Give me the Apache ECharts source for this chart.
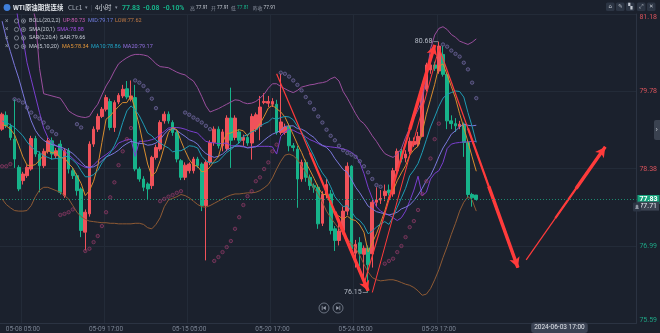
<!DOCTYPE html>
<html>
<head>
<meta charset="utf-8">
<title>WTI原油期货连续 4小时</title>
<script src="https://cdn.jsdelivr.net/npm/echarts@6/dist/echarts.min.js"></script>
<style>
  html, body { margin: 0; padding: 0; background: #1b212d; }
  #chart { width: 660px; height: 333px; }
</style>
</head>
<body>
<div id="chart"></div>
<script>
// ---- 4-hour bars (open / close / low / high) ----
const opens = [
  79.10, 79.35, 79.15, 78.92, 78.41, 78.17, 78.26, 78.38, 78.93, 78.65,
  78.44, 78.70, 78.89, 78.62, 78.83, 77.90, 78.71, 78.35, 78.26, 78.02,
  77.24, 77.57, 78.83, 79.10, 79.33, 79.46, 79.60, 79.13, 79.59, 79.70,
  79.83, 79.64, 79.67, 78.38, 78.20, 78.11, 78.08, 78.59, 78.74, 79.25,
  79.37, 79.22, 79.04, 78.53, 78.23, 78.35, 78.35, 78.56, 78.47, 77.72,
  78.50, 78.86, 79.10, 78.80, 78.75, 79.30, 78.95, 79.05, 78.90, 78.95,
  78.85, 79.10, 79.15, 79.58, 79.57, 79.55, 79.55, 79.04, 79.04, 79.15,
  78.80, 78.74, 78.20, 78.50, 78.23, 78.08, 78.05, 77.40, 77.92, 77.93,
  77.30, 77.09, 77.27, 77.62, 78.43, 76.86, 77.05, 76.84, 76.95, 76.85,
  77.78, 77.82, 77.90, 78.00, 77.93, 78.35, 78.70, 78.58, 78.70, 78.82,
  78.83, 78.97, 79.82, 80.17, 80.26, 80.15, 80.45, 80.09, 79.25, 79.20,
  79.15, 79.19, 78.86, 77.92, 77.91
];
const closes = [
  79.37, 79.16, 78.95, 78.56, 78.02, 78.29, 78.41, 78.93, 78.65, 78.44,
  78.70, 78.89, 78.65, 78.71, 77.96, 78.71, 78.38, 78.26, 77.99, 77.27,
  77.60, 78.83, 79.10, 79.33, 79.46, 79.67, 79.13, 79.58, 79.71, 79.82,
  79.68, 79.70, 78.38, 78.20, 78.05, 78.02, 78.59, 78.77, 79.22, 79.37,
  79.25, 79.04, 78.56, 78.23, 78.45, 78.47, 78.56, 78.44, 77.72, 78.50,
  78.86, 79.10, 78.80, 79.05, 79.30, 78.90, 79.30, 78.90, 78.95, 78.85,
  79.33, 79.36, 79.50, 79.60, 79.60, 79.60, 79.04, 79.23, 79.14, 78.80,
  78.77, 78.20, 78.50, 78.23, 78.08, 78.05, 77.39, 77.92, 78.10, 77.27,
  77.09, 77.26, 77.62, 78.43, 76.94, 77.02, 76.85, 76.95, 76.65, 77.78,
  77.82, 77.85, 77.98, 77.95, 78.35, 78.70, 78.56, 78.65, 78.88, 78.88,
  78.97, 79.84, 80.26, 80.26, 80.20, 80.60, 80.09, 79.25, 79.20, 79.16,
  79.19, 78.86, 77.92, 77.86, 77.83
];
const lows = [
  79.07, 79.12, 78.90, 78.40, 77.98, 78.10, 78.22, 78.35, 78.60, 77.96,
  78.40, 78.66, 78.55, 78.58, 77.92, 77.86, 78.30, 78.20, 77.90, 77.15,
  76.91, 77.52, 78.78, 79.05, 79.30, 79.42, 79.08, 79.05, 79.55, 79.66,
  79.64, 79.60, 78.34, 78.15, 77.98, 77.82, 78.02, 78.55, 78.70, 79.20,
  79.20, 78.98, 78.50, 78.18, 78.18, 78.30, 78.30, 78.40, 77.62, 76.73,
  78.45, 78.80, 78.75, 78.70, 78.70, 78.40, 78.90, 78.85, 78.80, 78.80,
  78.55, 79.05, 78.90, 79.55, 79.50, 79.50, 79.00, 79.00, 79.00, 78.70,
  78.70, 77.68, 78.15, 78.15, 78.00, 77.95, 77.30, 77.35, 77.85, 77.20,
  76.90, 77.00, 77.20, 77.55, 76.85, 76.60, 76.62, 76.40, 76.15, 76.60,
  77.70, 77.75, 77.80, 77.90, 77.88, 78.30, 78.50, 78.50, 78.65, 78.78,
  78.78, 78.95, 79.78, 80.10, 80.15, 80.10, 80.05, 79.10, 79.10, 79.05,
  79.10, 78.60, 77.85, 77.70, 77.81
];
const highs = [
  79.40, 79.42, 79.20, 79.64, 78.45, 78.33, 78.45, 78.98, 78.98, 78.70,
  78.75, 78.95, 78.95, 78.76, 78.90, 78.76, 78.76, 78.40, 78.30, 78.05,
  77.65, 78.88, 79.15, 79.38, 79.50, 79.72, 79.65, 79.62, 79.75, 79.90,
  79.97, 79.98, 79.90, 78.42, 78.25, 78.14, 78.62, 78.82, 79.26, 79.42,
  79.42, 79.26, 79.08, 78.56, 78.50, 78.50, 78.60, 78.60, 78.50, 78.55,
  78.90, 79.15, 79.15, 79.10, 79.35, 79.85, 79.35, 79.10, 79.00, 79.00,
  79.38, 79.40, 79.70, 79.75, 79.70, 79.66, 79.63, 80.10, 79.20, 79.20,
  78.85, 78.80, 78.55, 78.55, 78.28, 78.12, 78.10, 77.98, 78.20, 78.00,
  77.35, 77.40, 77.70, 78.50, 78.45, 77.10, 77.15, 77.00, 77.00, 77.85,
  78.05, 78.00, 78.10, 78.10, 78.40, 78.75, 78.75, 78.72, 78.95, 78.95,
  79.05, 79.90, 80.30, 80.30, 80.32, 80.68, 80.60, 80.12, 79.35, 79.30,
  79.25, 79.22, 78.90, 77.95, 77.91
];

// ---- indicator values per bar ----
const ma5 = [
  79.18, 79.16, 79.10, 79.00, 78.81, 78.60, 78.45, 78.44, 78.46, 78.54,
  78.63, 78.72, 78.67, 78.68, 78.58, 78.58, 78.48, 78.40, 78.26, 78.12,
  77.90, 77.99, 78.16, 78.43, 78.86, 79.28, 79.34, 79.43, 79.51, 79.58,
  79.58, 79.70, 79.46, 79.16, 78.80, 78.47, 78.25, 78.33, 78.53, 78.79,
  79.04, 79.13, 79.09, 78.89, 78.71, 78.55, 78.45, 78.43, 78.33, 78.34,
  78.42, 78.52, 78.60, 78.86, 79.02, 79.03, 79.07, 79.09, 79.07, 78.98,
  79.07, 79.08, 79.20, 79.33, 79.48, 79.53, 79.47, 79.41, 79.32, 79.16,
  79.00, 78.83, 78.68, 78.50, 78.36, 78.21, 78.05, 77.93, 77.91, 77.75,
  77.55, 77.53, 77.47, 77.53, 77.47, 77.45, 77.37, 77.24, 76.88, 77.05,
  77.21, 77.41, 77.62, 77.88, 77.99, 78.17, 78.31, 78.44, 78.63, 78.73,
  78.79, 79.04, 79.37, 79.64, 79.91, 80.23, 80.28, 80.08, 79.87, 79.66,
  79.38, 79.13, 78.87, 78.60, 78.34
];
const ma10 = [
  79.25, 79.22, 79.18, 79.13, 79.06, 78.98, 78.87, 78.78, 78.72, 78.68,
  78.62, 78.59, 78.56, 78.57, 78.56, 78.61, 78.60, 78.54, 78.47, 78.35,
  78.24, 78.24, 78.28, 78.35, 78.49, 78.59, 78.67, 78.80, 78.97, 79.22,
  79.43, 79.52, 79.45, 79.34, 79.19, 79.03, 78.98, 78.90, 78.85, 78.80,
  78.76, 78.69, 78.71, 78.71, 78.75, 78.80, 78.79, 78.76, 78.61, 78.53,
  78.49, 78.49, 78.52, 78.60, 78.68, 78.73, 78.80, 78.85, 78.97, 79.00,
  79.05, 79.08, 79.15, 79.20, 79.23, 79.30, 79.28, 79.31, 79.33, 79.32,
  79.27, 79.15, 79.05, 78.91, 78.76, 78.61, 78.44, 78.31, 78.21, 78.06,
  77.88, 77.79, 77.70, 77.72, 77.61, 77.50, 77.45, 77.36, 77.21, 77.26,
  77.33, 77.39, 77.43, 77.38, 77.52, 77.69, 77.86, 78.03, 78.26, 78.36,
  78.48, 78.68, 78.91, 79.14, 79.32, 79.51, 79.66, 79.73, 79.76, 79.79,
  79.78, 79.68, 79.40, 79.15, 78.86
];
// MA20 doubles as the Bollinger middle band
const ma20 = [
  81.05, 80.75, 80.50, 80.25, 80.02, 79.75, 79.48, 79.25, 79.08, 78.97,
  78.90, 78.85, 78.82, 78.80, 78.78, 78.75, 78.71, 78.66, 78.59, 78.51,
  78.43, 78.41, 78.42, 78.46, 78.53, 78.60, 78.63, 78.67, 78.72, 78.79,
  78.84, 78.88, 78.86, 78.84, 78.84, 78.81, 78.82, 78.85, 78.91, 79.01,
  79.09, 79.11, 79.08, 79.02, 78.97, 78.91, 78.88, 78.83, 78.73, 78.66,
  78.62, 78.59, 78.61, 78.65, 78.72, 78.76, 78.79, 78.80, 78.79, 78.76,
  78.77, 78.78, 78.83, 78.90, 78.96, 79.01, 79.04, 79.08, 79.15, 79.16,
  79.16, 79.11, 79.10, 79.06, 79.00, 78.95, 78.86, 78.81, 78.77, 78.69,
  78.57, 78.47, 78.37, 78.32, 78.19, 78.05, 77.95, 77.83, 77.71, 77.66,
  77.61, 77.59, 77.57, 77.55, 77.57, 77.60, 77.66, 77.69, 77.73, 77.81,
  77.91, 78.03, 78.17, 78.26, 78.42, 78.60, 78.76, 78.88, 79.01, 79.07,
  79.14, 79.19, 79.17, 79.16, 79.17
];
const bollUp = [
  82.60, 82.50, 82.40, 82.20, 82.00, 81.80, 81.60, 81.40, 81.10, 80.20,
  79.74, 79.72, 79.70, 79.68, 79.66, 79.55, 79.43, 79.38, 79.34, 79.32,
  79.31, 79.33, 79.45, 79.55, 79.72, 79.88, 80.00, 80.15, 80.28, 80.34,
  80.39, 80.43, 80.45, 80.45, 80.44, 80.42, 80.36, 80.28, 80.23, 80.22,
  80.21, 80.17, 80.13, 80.10, 80.08, 80.02, 79.97, 79.85, 79.69, 79.52,
  79.41, 79.44, 79.47, 79.51, 79.55, 79.59, 79.63, 79.62, 79.58, 79.56,
  79.57, 79.60, 79.66, 79.73, 79.84, 79.92, 79.92, 79.87, 79.83, 79.79,
  79.76, 79.80, 79.86, 79.88, 79.90, 79.91, 79.93, 79.94, 79.96, 80.01,
  80.04, 79.97, 79.78, 79.66, 79.52, 79.38, 79.26, 79.20, 79.10, 78.98,
  78.88, 78.76, 78.66, 78.62, 78.59, 78.65, 78.75, 78.95, 79.12, 79.30,
  79.45, 79.62, 80.05, 80.55, 80.80, 80.92, 80.95, 80.90, 80.81, 80.76,
  80.69, 80.66, 80.63, 80.67, 80.73
];
const bollLow = [
  77.84, 77.74, 77.68, 77.63, 77.62, 77.62, 77.63, 77.72, 77.88, 78.00,
  78.05, 78.05, 78.02, 77.99, 77.96, 77.90, 77.84, 77.72, 77.60, 77.52,
  77.47, 77.44, 77.43, 77.42, 77.41, 77.41, 77.40, 77.40, 77.39, 77.39,
  77.39, 77.39, 77.40, 77.40, 77.38, 77.32, 77.30, 77.38, 77.50, 77.70,
  77.82, 77.85, 77.88, 77.92, 77.90, 77.86, 77.80, 77.74, 77.70, 77.69,
  77.72, 77.76, 77.80, 77.84, 77.88, 77.91, 77.93, 77.93, 77.94, 77.95,
  77.95, 77.96, 77.99, 78.04, 78.10, 78.22, 78.38, 78.52, 78.63, 78.65,
  78.62, 78.55, 78.44, 78.32, 78.18, 78.04, 77.92, 77.78, 77.62, 77.50,
  77.40, 77.30, 77.22, 77.12, 77.03, 76.95, 76.82, 76.66, 76.52, 76.42,
  76.38, 76.36, 76.37, 76.38, 76.38, 76.36, 76.33, 76.30, 76.28, 76.24,
  76.18, 76.10, 76.12, 76.22, 76.38, 76.56, 76.78, 76.98, 77.20, 77.40,
  77.62, 77.78, 77.88, 77.82, 77.62
];
const sma = [
  82.50, 82.20, 81.90, 81.50, 81.00, 80.75, 80.30, 80.00, 79.70, 79.40,
  79.12, 78.95, 78.86, 78.80, 78.76, 78.70, 78.64, 78.57, 78.50, 78.45,
  78.41, 78.40, 78.45, 78.53, 78.59, 78.64, 78.70, 78.75, 78.85, 78.88,
  78.91, 78.92, 78.61, 78.88, 78.88, 78.89, 78.91, 78.94, 79.00, 79.06,
  79.12, 79.13, 79.13, 79.12, 79.10, 79.07, 79.05, 79.03, 78.95, 78.88,
  78.86, 78.85, 78.84, 78.84, 78.85, 78.80, 78.80, 78.79, 78.78, 78.77,
  78.78, 78.79, 78.79, 78.79, 78.79, 78.78, 78.65, 78.97, 79.05, 79.10,
  79.08, 79.04, 79.01, 78.96, 78.91, 78.88, 78.84, 78.80, 78.79, 78.78,
  78.77, 78.76, 78.74, 78.72, 78.68, 78.62, 78.50, 78.30, 78.05, 77.85,
  77.70, 77.62, 77.58, 77.55, 77.50, 77.45, 77.50, 77.62, 77.80, 78.00,
  78.25, 77.90, 77.96, 78.20, 78.30, 78.35, 78.50, 78.75, 78.83, 78.85,
  78.86, 78.87, 78.87, 78.88, 78.88
];
const sar = [
  78.43, 78.43, 78.47, 79.64, 79.62, 79.58, 79.49, 79.40, 79.33, 79.29,
  79.22, 79.13, 79.06, 79.01, 77.55, 77.57, 77.60, 77.65, 79.19, 79.13,
  76.90, 76.94, 77.06, 77.17, 77.35, 77.60, 77.87, 78.14, 78.45, 78.70,
  78.92, 79.12, 79.98, 79.94, 79.88, 79.80, 79.65, 79.48, 77.80, 77.84,
  77.88, 77.91, 77.95, 77.98, 79.40, 79.36, 79.31, 79.27, 79.22, 79.16,
  79.10, 76.72, 76.79, 76.88, 76.97, 77.08, 77.30, 77.51, 77.73, 77.89,
  77.98, 78.16, 78.23, 78.38, 78.50, 78.70, 78.82, 80.12, 80.10, 80.05,
  79.98, 79.90, 79.80, 79.68, 79.58, 79.46, 79.33, 79.22, 79.09, 78.98,
  78.90, 78.80, 78.72, 78.67, 78.64, 78.60, 78.52, 78.43, 78.32, 78.20,
  78.09, 78.06, 76.67, 76.72, 76.76, 76.88, 76.99, 77.15, 77.33, 77.44,
  77.64, 77.93, 78.16, 78.57, 78.92, 79.20, 80.63, 80.59, 80.52, 80.46,
  80.41, 80.30, 80.18, 79.94, 79.66
];

// ---- axis labels ----
const slotCount = 153;                       // bars plus empty slots to the right
const tickBars = [5, 25, 45, 65, 85, 105];
const tickLabels = ['05-08 05:00', '05-09 17:00', '05-15 05:00', '05-20 17:00', '05-24 05:00', '05-29 17:00'];
const pointerBar = 134;
const pointerLabel = '2024-06-03 17:00';
const yTickLabels = ['75.59', '76.99', '78.38', '79.78', '81.18'];
const prevClose = 77.91;
const alertLevel = 77.71;

// ---- hand-drawn trend arrows (bar index, price) ----
const arrowDrawings = [
  { from: [66, 80.10], to: [88, 76.18] },
  { from: [87, 76.30], to: [104, 80.62] },
  { from: [105, 80.58], to: [124, 76.60] },
  { from: [126, 76.74], to: [145, 78.78] }
];
const thinGuides = [
  { from: [89, 76.15], to: [105, 80.55] }
];

const last = arr => arr[arr.length - 1];
const f2 = v => v.toFixed(2);

const categories = new Array(slotCount).fill('');
tickBars.forEach((b, k) => { categories[b] = tickLabels[k]; });
categories[pointerBar] = pointerLabel;

const candleData = opens.map((o, i) => [o, closes[i], lows[i], highs[i]]);
const sarAbove = sar.map((v, i) => (v > closes[i] ? [i, v] : [i, '-']));
const sarBelow = sar.map((v, i) => (v <= closes[i] ? [i, v] : [i, '-']));

const RED = '#f0525a';
const GREEN = '#17b38a';
const ARROW = '#ff3b3b';

// tapered arrows: thin full stroke, then progressively thicker toward the head
const drawLines = [];
function pointAt(a, frac) {
  const dx = a.to[0] - a.from[0];
  const k = Math.round(dx * frac);
  const t = k / dx;
  return [a.from[0] + k, a.from[1] + (a.to[1] - a.from[1]) * t];
}
arrowDrawings.forEach(a => {
  drawLines.push([{ coord: a.from, symbol: 'none' },
    { coord: a.to, symbol: 'none', lineStyle: { width: 1.2, color: ARROW, type: 'solid' } }]);
  drawLines.push([{ coord: pointAt(a, 0.35), symbol: 'none' },
    { coord: a.to, symbol: 'none', lineStyle: { width: 2.2, color: ARROW, type: 'solid' } }]);
  drawLines.push([{ coord: pointAt(a, 0.65), symbol: 'none' },
    { coord: a.to, symbol: 'arrow', symbolSize: [8, 10], lineStyle: { width: 3.4, color: ARROW, type: 'solid' } }]);
});
thinGuides.forEach(a => {
  drawLines.push([{ coord: a.from, symbol: 'none' },
    { coord: a.to, symbol: 'none', lineStyle: { width: 1, color: ARROW, type: 'solid' } }]);
});
const lastClose = last(closes);
drawLines.push({
  yAxis: lastClose, symbol: 'none',
  lineStyle: { color: '#1c8a70', type: [1, 2], width: 1 },
  label: { show: true, position: 'end', distance: 1, formatter: f2(lastClose), color: '#ffffff',
    backgroundColor: '#16a37c', padding: [1, 2, 1, 2], fontSize: 7, fontWeight: 'bold' }
});
drawLines.push({
  yAxis: alertLevel, symbol: 'none',
  lineStyle: { color: 'rgba(0,0,0,0)', width: 0.1 },
  label: { show: true, position: 'end', distance: 1, formatter: f2(alertLevel), color: '#e6e9ee',
    backgroundColor: '#3b4352', padding: [1, 2, 1, 2], fontSize: 7 }
});

function lineSeries(name, data, color, z) {
  return {
    name, type: 'line', data, showSymbol: false, symbol: 'none', silent: true, z: z || 3,
    lineStyle: { width: 1, color }, itemStyle: { color }
  };
}

// ---- overlay text: header, indicator captions, chrome ----
const FONT = 'Roboto, "Noto Sans CJK SC", sans-serif';
const CJK = '"Noto Sans CJK SC", Roboto, sans-serif';
function txt(x, y, text, fill, size, weight, family) {
  return { type: 'text', x, y, silent: true, z: 100,
    style: { text, fill, fontSize: size || 6.5, fontWeight: weight || 'normal',
      fontFamily: family || FONT, verticalAlign: 'middle' } };
}
function ring(cx, cy, r, stroke) {
  return { type: 'circle', silent: true, z: 100, shape: { cx, cy, r },
    style: { fill: 'none', stroke, lineWidth: 0.8 } };
}

const lastOpen = last(opens), lastHigh = last(highs), lastLow = last(lows);
const chg = lastClose - prevClose;
const sign = chg < 0 ? '' : '+';
const graphics = [
  { type: 'circle', silent: true, z: 100, shape: { cx: 7, cy: 7.5, r: 3.4 }, style: { fill: '#3f7fdc' } },
  txt(13, 8, 'WTI原油期货连续', '#e9ecf1', 6.4, 'bold', CJK),
  txt(68, 8, 'CLc1', '#aeb4bf', 6.4, 'normal', CJK),
  txt(85, 8, '▾', '#8b92a0', 5),
  txt(90.5, 8, '|', '#444c5a', 6.5),
  txt(95, 8, '4小时', '#d6dae1', 6.4, 'normal', CJK),
  txt(115, 8, '▾', '#8b92a0', 5),
  txt(122, 8, f2(lastClose), GREEN, 7, 'bold'),
  txt(143, 8, sign + f2(chg), GREEN, 6.8, 'bold'),
  txt(163, 8, sign + (chg / prevClose * 100).toFixed(2) + '%', GREEN, 6.8, 'bold'),
  txt(190, 8, '高', '#8d94a2', 4.8, 'normal', CJK),
  txt(196, 8, f2(lastHigh), '#c9ced6', 4.8),
  txt(211, 8, '开', '#8d94a2', 4.8, 'normal', CJK),
  txt(217, 8, f2(lastOpen), '#c9ced6', 4.8),
  txt(231, 8, '低', '#8d94a2', 4.8, 'normal', CJK),
  txt(237, 8, f2(lastLow), GREEN, 4.8),
  txt(253, 8, '昨收', '#8d94a2', 4.8, 'normal', CJK),
  txt(263.5, 8, f2(prevClose), '#c9ced6', 4.8)
];
// toolbar buttons
[606, 616, 626, 637, 647].forEach((x, k) => {
  graphics.push({ type: 'rect', silent: true, z: 100, shape: { x, y: 2.5, width: 8.5, height: 8.5, r: 1.5 },
    style: { fill: '#2c3544' } });
  const glyph = ['⌂', '✎', '▚', '⤢', '✕'][k];
  graphics.push({ type: 'text', silent: true, z: 101, x: x + 4.25, y: 7,
    style: { text: glyph, fill: '#c4c9d2', fontSize: 5.5, fontFamily: '"DejaVu Sans", sans-serif',
      align: 'center', verticalAlign: 'middle' } });
});
// indicator caption rows
const rows = [
  { y: 21, parts: [['BOLL(20,2,2)', '#c3c8d2', 29], ['UP:' + f2(last(bollUp)), '#d05fb8', 63],
    ['MID:' + f2(last(ma20)), '#6f7de0', 88], ['LOW:' + f2(last(bollLow)), '#c27b45', 115]] },
  { y: 29.5, parts: [['SMA(20,1)', '#c3c8d2', 29], ['SMA:' + f2(last(sma)), '#a04de0', 57]] },
  { y: 38, parts: [['SAR(2,20,4)', '#c3c8d2', 29], ['SAR:' + f2(last(sar)), '#c3c8d2', 60]] },
  { y: 46.5, parts: [['MA(5,10,20)', '#c3c8d2', 29], ['MA5:' + f2(last(ma5)), '#e5973a', 62],
    ['MA10:' + f2(last(ma10)), '#21a6c8', 91], ['MA20:' + f2(last(ma20)), '#9270e0', 123]] }
];
rows.forEach(r => {
  graphics.push(txt(5, r.y, '×', '#8b92a0', 6.5));
  graphics.push(ring(16.5, r.y, 2.1, '#8b92a0'));
  graphics.push(ring(23.5, r.y, 2.1, '#8b92a0'));
  graphics.push({ type: 'circle', silent: true, z: 100, shape: { cx: 23.5, cy: r.y, r: 0.9 }, style: { fill: '#8b92a0' } });
  r.parts.forEach(p => graphics.push(txt(p[2], r.y, p[0], p[1], 5.5)));
});
// navigation buttons near the bottom
[324, 338].forEach((cx, k) => {
  graphics.push(ring(cx, 308, 5, '#7e8695'));
  const dir = k === 0 ? -1 : 1;
  graphics.push({ type: 'polygon', silent: true, z: 100,
    shape: { points: [[cx - 1.8 * dir, 306], [cx - 1.8 * dir, 310], [cx + 1.2 * dir, 308]] },
    style: { fill: '#9aa1ae' } });
  graphics.push({ type: 'line', silent: true, z: 100,
    shape: { x1: cx + 1.8 * dir, y1: 305.8, x2: cx + 1.8 * dir, y2: 310.2 },
    style: { stroke: '#9aa1ae', lineWidth: 0.8 } });
});
// collapse tab and alert bell on the price scale
graphics.push({ type: 'rect', silent: true, z: 100, shape: { x: 654, y: 120, width: 8, height: 20, r: 2 },
  style: { fill: '#3a4250' } });
graphics.push(txt(655.5, 130, '›', '#c4c9d2', 8));
graphics.push({ type: 'rect', silent: true, z: 100, shape: { x: 633, y: 202.5, width: 8, height: 9, r: 1 },
  style: { fill: '#2c3544' } });
graphics.push({ type: 'polygon', silent: true, z: 101,
  shape: { points: [[635, 209], [639, 209], [638.3, 207.8], [638.3, 205.6], [637, 204.5], [635.7, 205.6], [635.7, 207.8]] },
  style: { fill: '#8f96a3' } });

const option = {
  backgroundColor: '#1b212d',
  animation: false,
  textStyle: { fontFamily: FONT },
  grid: { left: 0, right: 18, top: 14, bottom: 9, containLabel: false },
  xAxis: {
    type: 'category',
    data: categories,
    boundaryGap: true,
    axisLine: { show: true, lineStyle: { color: '#2b3342' } },
    axisTick: { show: false },
    axisLabel: {
      interval: idx => tickBars.includes(idx),
      color: '#7a8393', fontSize: 6.5, margin: 3, hideOverlap: false
    },
    splitLine: {
      show: true,
      interval: idx => tickBars.includes(idx),
      lineStyle: { color: '#232b38', width: 1 }
    },
    axisPointer: {
      show: true, value: pointerBar, status: 'show', type: 'line', snap: true,
      triggerTooltip: false,
      lineStyle: { color: 'rgba(0,0,0,0)', width: 0 },
      label: {
        show: true, backgroundColor: '#3b4354', color: '#dfe2e8', fontSize: 6.5,
        padding: [2, 3, 2, 3], margin: 1,
        formatter: p => (typeof p.value === 'number' ? categories[p.value] : p.value)
      }
    }
  },
  yAxis: {
    type: 'value',
    position: 'right',
    min: 75.59,
    max: 81.18,
    interval: (81.18 - 75.59) / 4,
    axisLine: { show: true, lineStyle: { color: '#2b3342' } },
    axisTick: { show: false },
    splitLine: { show: true, lineStyle: { color: '#232b38', width: 1 } },
    axisLabel: {
      fontSize: 7, margin: 3,
      verticalAlignMinLabel: 'bottom',
      verticalAlignMaxLabel: 'top',
      formatter: v => {
        let best = yTickLabels[0];
        yTickLabels.forEach(t => { if (Math.abs(+t - v) < Math.abs(+best - v)) best = t; });
        return best;
      },
      color: v => (+v > lastClose ? '#d9535b' : '#1ea384')
    }
  },
  axisPointer: { triggerOn: 'none' },
  series: [
    {
      name: 'K', type: 'candlestick', data: candleData, barWidth: 3.2, z: 2, silent: true,
      itemStyle: { color: RED, color0: GREEN, borderColor: RED, borderColor0: GREEN, borderWidth: 1 },
      markPoint: {
        silent: true,
        symbol: 'rect',
        symbolSize: [5, 0.8],
        itemStyle: { color: '#8f96a3' },
        label: { show: true, position: 'left', distance: 1, color: '#b5bbc6', fontSize: 7,
          formatter: p => f2(p.value) },
        data: [
          { type: 'max', valueDim: 'highest', symbolOffset: [-3, 0] },
          { type: 'min', valueDim: 'lowest', symbolOffset: [-3, 0] }
        ]
      }
    },
    lineSeries('BOLL UP', bollUp, '#9b4f9e', 3),
    lineSeries('BOLL LOW', bollLow, '#8e5a34', 3),
    lineSeries('SMA', sma, '#7a3fcf', 3),
    lineSeries('MA20', ma20, '#7b78dc', 3),
    lineSeries('MA5', ma5, '#d88c2e', 4),
    Object.assign(lineSeries('MA10', ma10, '#1f9cb4', 4), {
      markLine: { silent: true, animation: false, symbol: 'none', label: { show: false },
        emphasis: { disabled: true }, data: drawLines }
    }),
    {
      name: 'SAR+', type: 'scatter', data: sarAbove, symbol: 'circle', symbolSize: 3.4, z: 5, silent: true,
      itemStyle: { color: 'rgba(125,114,176,0.25)', borderColor: '#7d72b0', borderWidth: 0.8 }
    },
    {
      name: 'SAR-', type: 'scatter', data: sarBelow, symbol: 'circle', symbolSize: 3.4, z: 5, silent: true,
      itemStyle: { color: 'rgba(150,55,105,0.25)', borderColor: '#9a3d6d', borderWidth: 0.8 }
    }
  ],
  graphic: graphics
};

const chart = echarts.init(document.getElementById('chart'), null, { renderer: 'canvas' });
chart.setOption(option);
</script>
</body>
</html>
